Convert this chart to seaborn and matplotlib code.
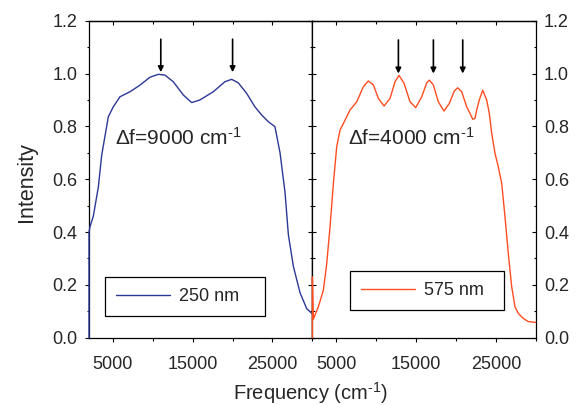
import numpy as np
import pandas as pd
import matplotlib
matplotlib.use("Agg")
import matplotlib.pyplot as plt
import seaborn as sns
from matplotlib.ticker import MultipleLocator

# ---- data ----
freq_250 = [2000, 2000, 2125, 2543, 3170, 3588, 4215, 4418, 5045, 5884,
            7137, 8390, 9643, 10684, 11523, 12563, 13816, 14868, 15908, 17575,
            19041, 19880, 20707, 21760, 22800, 23640, 24466, 25306, 25946, 26573,
            26991, 27618, 28454, 29289, 30000]
int_250 = [0.0, 0.40, 0.42, 0.46, 0.57, 0.69, 0.80, 0.836, 0.874, 0.912,
           0.931, 0.956, 0.986, 0.997, 0.994, 0.969, 0.919, 0.890, 0.900, 0.931,
           0.969, 0.978, 0.965, 0.925, 0.874, 0.843, 0.818, 0.799, 0.70, 0.55,
           0.39, 0.27, 0.17, 0.11, 0.09]

freq_575 = [2000, 2000, 2125, 2752, 3379, 3797, 4215, 4633, 5051, 5469,
            5885, 6724, 7563, 8390, 9017, 9643, 10270, 10984, 11736, 12362,
            12864, 13490, 14242, 14956, 15708, 16334, 16660, 17161, 17788, 18502,
            19167, 19793, 20220, 20720, 21347, 21760, 22098, 22387, 22600, 22925,
            23351, 23852, 24178, 24479, 24893, 25306, 25731, 26145, 26558, 26984,
            27398, 27811, 28438, 29065, 30000]
int_575 = [0.0, 0.23, 0.07, 0.117, 0.18, 0.28, 0.42, 0.584, 0.723, 0.786,
           0.811, 0.862, 0.893, 0.950, 0.972, 0.957, 0.906, 0.877, 0.906, 0.969,
           0.993, 0.963, 0.893, 0.871, 0.912, 0.965, 0.975, 0.957, 0.893, 0.858,
           0.887, 0.934, 0.946, 0.931, 0.874, 0.849, 0.827, 0.830, 0.862, 0.900,
           0.937, 0.900, 0.849, 0.774, 0.698, 0.647, 0.584, 0.458, 0.319, 0.193,
           0.117, 0.092, 0.073, 0.061, 0.058]

arrows_250 = [11000, 20000]
arrows_575 = [12782, 17170, 20847]
x_ticks = [5000, 15000, 25000]
y_ticks = [0.0, 0.2, 0.4, 0.6, 0.8, 1.0, 1.2]
labels = ["250 nm", "575 nm"]
notes = ["Δf=9000 cm$^{\\text{-1}}$", "Δf=4000 cm$^{\\text{-1}}$"]

blue = "#2b3896"
orange = "#ff4d1f"

sns.set_style("ticks")
plt.rcParams['font.family'] = ['Liberation Sans', 'DejaVu Sans']
plt.rcParams['mathtext.fontset'] = 'custom'
plt.rcParams['mathtext.rm'] = 'Liberation Sans'
plt.rcParams['mathtext.it'] = 'Liberation Sans:italic'

fig = plt.figure(figsize=(5.79, 4.05), dpi=100)
ax1 = fig.add_axes([0.1537, 0.1662, 0.3858, 0.7827])
ax2 = fig.add_axes([0.5395, 0.1662, 0.3858, 0.7827])

df1 = pd.DataFrame({"f": freq_250, "I": int_250})
df2 = pd.DataFrame({"f": freq_575, "I": int_575})
sns.lineplot(data=df1, x="f", y="I", ax=ax1, color=blue, lw=1.0, sort=False,
             estimator=None, label=labels[0], zorder=3)
sns.lineplot(data=df2, x="f", y="I", ax=ax2, color=orange, lw=1.0, sort=False,
             estimator=None, label=labels[1], zorder=3)
for ax in (ax1, ax2):
    for ln in ax.lines:
        ln.set_clip_on(False)

MAJ, MIN = 3.2, 1.8

def style_axis(axis_obj):
    for s in axis_obj.spines.values():
        s.set_color('black')
        s.set_linewidth(0.9)

for ax in (ax1, ax2):
    ax.set_xlim(2000, 30000)
    ax.set_ylim(0, 1.2)
    ax.set_xticks(x_ticks)
    ax.set_yticks(y_ticks)
    ax.set_yticklabels([f"{v:.1f}" for v in y_ticks])
    ax.xaxis.set_minor_locator(MultipleLocator(5000))
    ax.yaxis.set_minor_locator(MultipleLocator(0.1))
    ax.set_xlabel("")
    ax.set_ylabel("")
    style_axis(ax)
    ax.tick_params(axis='x', which='both', direction='out', bottom=True, top=False,
                   labelsize=13, pad=10, color='black', width=0.8)
    ax.tick_params(axis='x', which='major', length=MAJ)
    ax.tick_params(axis='x', which='minor', length=MIN)
    sx = ax.secondary_xaxis('top')
    sx.set_xticks(x_ticks)
    sx.xaxis.set_minor_locator(MultipleLocator(5000))
    sx.tick_params(which='both', direction='in', labeltop=False, color='black', width=0.8)
    sx.tick_params(which='major', length=MAJ)
    sx.tick_params(which='minor', length=MIN)
    style_axis(sx)

ax1.tick_params(axis='y', which='both', direction='out', left=True, right=False,
                labelleft=True, labelsize=13, pad=5, color='black', width=0.8)
ax1.tick_params(axis='y', which='major', length=MAJ)
ax1.tick_params(axis='y', which='minor', length=MIN)
sy = ax1.secondary_yaxis('right')
sy.set_yticks(y_ticks)
sy.yaxis.set_minor_locator(MultipleLocator(0.1))
sy.tick_params(which='both', direction='in', labelright=False, color='black', width=0.8)
sy.tick_params(which='major', length=MAJ)
sy.tick_params(which='minor', length=MIN)
style_axis(sy)

ax2.tick_params(axis='y', which='both', direction='in', left=True, right=True,
                labelleft=False, labelright=True, labelsize=13, pad=6,
                color='black', width=0.8)
ax2.tick_params(axis='y', which='major', length=MAJ)
ax2.tick_params(axis='y', which='minor', length=MIN)

fig.text(0.045, 0.55, "Intensity", rotation=90, ha='center', va='center', fontsize=15.5)
fig.text(0.536, 0.03, "Frequency (cm$^{\\text{-1}}$)", ha='center', va='center', fontsize=14.5)

for xa in arrows_250:
    ax1.annotate("", xy=(xa, 1.005), xytext=(xa, 1.13),
                 arrowprops=dict(arrowstyle='-|>', color='black', lw=1.2,
                                 mutation_scale=8, shrinkA=0, shrinkB=0))
for xa in arrows_575:
    ax2.annotate("", xy=(xa, 1.0), xytext=(xa, 1.127),
                 arrowprops=dict(arrowstyle='-|>', color='black', lw=1.2,
                                 mutation_scale=8, shrinkA=0, shrinkB=0))

ax1.text(5200, 0.755, notes[0], fontsize=15, va='center', ha='left')
ax2.text(6500, 0.755, notes[1], fontsize=15, va='center', ha='left')

for ax, box in ((ax1, (0.0716, 0.068, 0.716, 0.12)), (ax2, (0.169, 0.087, 0.689, 0.12))):
    leg = ax.legend(loc='lower left', bbox_to_anchor=box, mode='expand', fontsize=13,
                    frameon=True, fancybox=False, edgecolor='black', handlelength=3.0,
                    borderpad=0.6, handletextpad=0.5, borderaxespad=0)
    leg.get_frame().set_linewidth(0.9)
    leg.get_frame().set_alpha(1)

fig.savefig("out.png", dpi=100)
